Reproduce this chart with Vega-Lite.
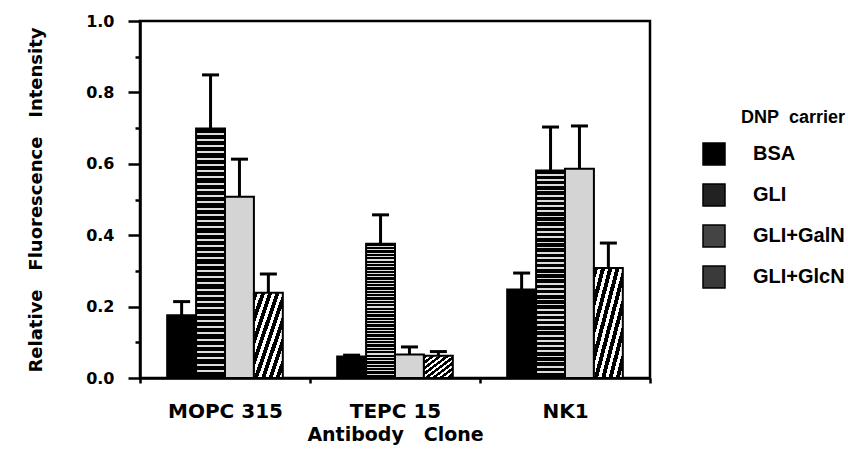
{
  "$schema": "https://vega.github.io/schema/vega-lite/v6.json",
  "width": 510,
  "height": 357,
  "autosize": {"type": "none"},
  "padding": {"left": 140, "top": 21, "right": 198, "bottom": 75},
  "background": "white",
  "config": {
    "view": {"stroke": "black", "strokeWidth": 2.5},
    "axis": {
      "domainColor": "black", "domainWidth": 2.5,
      "tickColor": "black", "tickWidth": 2.5,
      "grid": false,
      "labelFont": "DejaVu Sans", "labelFontWeight": "bold", "labelColor": "black",
      "titleFont": "DejaVu Sans", "titleFontWeight": "bold", "titleColor": "black"
    }
  },
  "data": {
    "values": [
      {"clone": "MOPC 315", "carrier": "BSA", "value": 0.176, "upper": 0.214},
      {"clone": "MOPC 315", "carrier": "GLI", "value": 0.699, "upper": 0.849},
      {"clone": "MOPC 315", "carrier": "GLI+GalN", "value": 0.508, "upper": 0.613},
      {"clone": "MOPC 315", "carrier": "GLI+GlcN", "value": 0.239, "upper": 0.291},
      {"clone": "TEPC 15", "carrier": "BSA", "value": 0.060, "upper": 0.064},
      {"clone": "TEPC 15", "carrier": "GLI", "value": 0.376, "upper": 0.457},
      {"clone": "TEPC 15", "carrier": "GLI+GalN", "value": 0.066, "upper": 0.087},
      {"clone": "TEPC 15", "carrier": "GLI+GlcN", "value": 0.062, "upper": 0.074},
      {"clone": "NK1", "carrier": "BSA", "value": 0.248, "upper": 0.294},
      {"clone": "NK1", "carrier": "GLI", "value": 0.581, "upper": 0.703},
      {"clone": "NK1", "carrier": "GLI+GalN", "value": 0.586, "upper": 0.706},
      {"clone": "NK1", "carrier": "GLI+GlcN", "value": 0.308, "upper": 0.378}
    ]
  },
  "encoding": {
    "x": {
      "field": "clone", "type": "nominal",
      "sort": ["MOPC 315", "TEPC 15", "NK1"],
      "scale": {"paddingInner": 0, "paddingOuter": 0},
      "axis": {
        "title": "Antibody\u00a0\u00a0\u00a0Clone",
        "labelAngle": 0, "labelFontSize": 20,
        "tickBand": "extent", "tickSize": 5,
        "labelPadding": 18,
        "titleFontSize": 19,
        "titleY": 62, "titleBaseline": "alphabetic"
      }
    },
    "xOffset": {
      "field": "carrier", "type": "nominal",
      "sort": ["BSA", "GLI", "GLI+GalN", "GLI+GlcN"],
      "scale": {"paddingInner": 0, "paddingOuter": 0.94}
    },
    "y": {
      "field": "value", "type": "quantitative",
      "title": "Relative\u00a0\u00a0\u00a0Fluorescence\u00a0\u00a0\u00a0Intensity",
      "scale": {"domain": [0, 1], "nice": false},
      "axis": {
        "values": [0, 0.1, 0.2, 0.3, 0.4, 0.5, 0.6, 0.7, 0.8, 0.9, 1.0],
        "labelExpr": "round(datum.value*10)%2==0 ? format(datum.value,'.1f') : ''",
        "tickSize": {"condition": {"test": "round(datum.value*10)%2==0", "value": 12}, "value": 5},
        "labelFontSize": 16,
        "labelPadding": 14,
        "titleFontSize": 18,
        "titleX": -104,
        "titleBaseline": "middle"
      }
    }
  },
  "layer": [
    {
      "mark": {"type": "rule", "strokeWidth": 3, "color": "black"},
      "encoding": {
        "y2": {"field": "upper"}
      }
    },
    {
      "mark": {"type": "bar", "stroke": "black", "strokeWidth": 2, "opacity": 1},
      "encoding": {
        "fill": {
          "condition": [
            {"test": "datum.carrier === 'GLI'", "value": {"gradient": "linear", "x1": 0, "y1": 0, "x2": 0, "y2": 1, "stops": [
              {"offset": 0, "color": "#000"},
              {"offset": 0.017, "color": "#000"}, {"offset": 0.017, "color": "#ddd"}, {"offset": 0.025, "color": "#ddd"}, {"offset": 0.025, "color": "#000"},
              {"offset": 0.042, "color": "#000"}, {"offset": 0.042, "color": "#ddd"}, {"offset": 0.05, "color": "#ddd"}, {"offset": 0.05, "color": "#000"},
              {"offset": 0.067, "color": "#000"}, {"offset": 0.067, "color": "#ddd"}, {"offset": 0.075, "color": "#ddd"}, {"offset": 0.075, "color": "#000"},
              {"offset": 0.092, "color": "#000"}, {"offset": 0.092, "color": "#ddd"}, {"offset": 0.1, "color": "#ddd"}, {"offset": 0.1, "color": "#000"},
              {"offset": 0.117, "color": "#000"}, {"offset": 0.117, "color": "#ddd"}, {"offset": 0.125, "color": "#ddd"}, {"offset": 0.125, "color": "#000"},
              {"offset": 0.142, "color": "#000"}, {"offset": 0.142, "color": "#ddd"}, {"offset": 0.15, "color": "#ddd"}, {"offset": 0.15, "color": "#000"},
              {"offset": 0.167, "color": "#000"}, {"offset": 0.167, "color": "#ddd"}, {"offset": 0.175, "color": "#ddd"}, {"offset": 0.175, "color": "#000"},
              {"offset": 0.192, "color": "#000"}, {"offset": 0.192, "color": "#ddd"}, {"offset": 0.2, "color": "#ddd"}, {"offset": 0.2, "color": "#000"},
              {"offset": 0.217, "color": "#000"}, {"offset": 0.217, "color": "#ddd"}, {"offset": 0.225, "color": "#ddd"}, {"offset": 0.225, "color": "#000"},
              {"offset": 0.242, "color": "#000"}, {"offset": 0.242, "color": "#ddd"}, {"offset": 0.25, "color": "#ddd"}, {"offset": 0.25, "color": "#000"},
              {"offset": 0.267, "color": "#000"}, {"offset": 0.267, "color": "#ddd"}, {"offset": 0.275, "color": "#ddd"}, {"offset": 0.275, "color": "#000"},
              {"offset": 0.292, "color": "#000"}, {"offset": 0.292, "color": "#ddd"}, {"offset": 0.3, "color": "#ddd"}, {"offset": 0.3, "color": "#000"},
              {"offset": 0.317, "color": "#000"}, {"offset": 0.317, "color": "#ddd"}, {"offset": 0.325, "color": "#ddd"}, {"offset": 0.325, "color": "#000"},
              {"offset": 0.342, "color": "#000"}, {"offset": 0.342, "color": "#ddd"}, {"offset": 0.35, "color": "#ddd"}, {"offset": 0.35, "color": "#000"},
              {"offset": 0.367, "color": "#000"}, {"offset": 0.367, "color": "#ddd"}, {"offset": 0.375, "color": "#ddd"}, {"offset": 0.375, "color": "#000"},
              {"offset": 0.392, "color": "#000"}, {"offset": 0.392, "color": "#ddd"}, {"offset": 0.4, "color": "#ddd"}, {"offset": 0.4, "color": "#000"},
              {"offset": 0.417, "color": "#000"}, {"offset": 0.417, "color": "#ddd"}, {"offset": 0.425, "color": "#ddd"}, {"offset": 0.425, "color": "#000"},
              {"offset": 0.442, "color": "#000"}, {"offset": 0.442, "color": "#ddd"}, {"offset": 0.45, "color": "#ddd"}, {"offset": 0.45, "color": "#000"},
              {"offset": 0.467, "color": "#000"}, {"offset": 0.467, "color": "#ddd"}, {"offset": 0.475, "color": "#ddd"}, {"offset": 0.475, "color": "#000"},
              {"offset": 0.492, "color": "#000"}, {"offset": 0.492, "color": "#ddd"}, {"offset": 0.5, "color": "#ddd"}, {"offset": 0.5, "color": "#000"},
              {"offset": 0.517, "color": "#000"}, {"offset": 0.517, "color": "#ddd"}, {"offset": 0.525, "color": "#ddd"}, {"offset": 0.525, "color": "#000"},
              {"offset": 0.542, "color": "#000"}, {"offset": 0.542, "color": "#ddd"}, {"offset": 0.55, "color": "#ddd"}, {"offset": 0.55, "color": "#000"},
              {"offset": 0.567, "color": "#000"}, {"offset": 0.567, "color": "#ddd"}, {"offset": 0.575, "color": "#ddd"}, {"offset": 0.575, "color": "#000"},
              {"offset": 0.592, "color": "#000"}, {"offset": 0.592, "color": "#ddd"}, {"offset": 0.6, "color": "#ddd"}, {"offset": 0.6, "color": "#000"},
              {"offset": 0.617, "color": "#000"}, {"offset": 0.617, "color": "#ddd"}, {"offset": 0.625, "color": "#ddd"}, {"offset": 0.625, "color": "#000"},
              {"offset": 0.642, "color": "#000"}, {"offset": 0.642, "color": "#ddd"}, {"offset": 0.65, "color": "#ddd"}, {"offset": 0.65, "color": "#000"},
              {"offset": 0.667, "color": "#000"}, {"offset": 0.667, "color": "#ddd"}, {"offset": 0.675, "color": "#ddd"}, {"offset": 0.675, "color": "#000"},
              {"offset": 0.692, "color": "#000"}, {"offset": 0.692, "color": "#ddd"}, {"offset": 0.7, "color": "#ddd"}, {"offset": 0.7, "color": "#000"},
              {"offset": 0.717, "color": "#000"}, {"offset": 0.717, "color": "#ddd"}, {"offset": 0.725, "color": "#ddd"}, {"offset": 0.725, "color": "#000"},
              {"offset": 0.742, "color": "#000"}, {"offset": 0.742, "color": "#ddd"}, {"offset": 0.75, "color": "#ddd"}, {"offset": 0.75, "color": "#000"},
              {"offset": 0.767, "color": "#000"}, {"offset": 0.767, "color": "#ddd"}, {"offset": 0.775, "color": "#ddd"}, {"offset": 0.775, "color": "#000"},
              {"offset": 0.792, "color": "#000"}, {"offset": 0.792, "color": "#ddd"}, {"offset": 0.8, "color": "#ddd"}, {"offset": 0.8, "color": "#000"},
              {"offset": 0.817, "color": "#000"}, {"offset": 0.817, "color": "#ddd"}, {"offset": 0.825, "color": "#ddd"}, {"offset": 0.825, "color": "#000"},
              {"offset": 0.842, "color": "#000"}, {"offset": 0.842, "color": "#ddd"}, {"offset": 0.85, "color": "#ddd"}, {"offset": 0.85, "color": "#000"},
              {"offset": 0.867, "color": "#000"}, {"offset": 0.867, "color": "#ddd"}, {"offset": 0.875, "color": "#ddd"}, {"offset": 0.875, "color": "#000"},
              {"offset": 0.892, "color": "#000"}, {"offset": 0.892, "color": "#ddd"}, {"offset": 0.9, "color": "#ddd"}, {"offset": 0.9, "color": "#000"},
              {"offset": 0.917, "color": "#000"}, {"offset": 0.917, "color": "#ddd"}, {"offset": 0.925, "color": "#ddd"}, {"offset": 0.925, "color": "#000"},
              {"offset": 0.942, "color": "#000"}, {"offset": 0.942, "color": "#ddd"}, {"offset": 0.95, "color": "#ddd"}, {"offset": 0.95, "color": "#000"},
              {"offset": 0.967, "color": "#000"}, {"offset": 0.967, "color": "#ddd"}, {"offset": 0.975, "color": "#ddd"}, {"offset": 0.975, "color": "#000"},
              {"offset": 1, "color": "#000"}
            ]}},
            {"test": "datum.carrier === 'GLI+GalN'", "value": "#d4d4d4"},
            {"test": "datum.carrier === 'GLI+GlcN'", "value": {"gradient": "linear", "x1": 0, "y1": 0, "x2": 1, "y2": 1, "stops": [
              {"offset": 0, "color": "#000"}, {"offset": 0.07, "color": "#000"}, {"offset": 0.07, "color": "#fff"}, {"offset": 0.125, "color": "#fff"},
              {"offset": 0.125, "color": "#000"}, {"offset": 0.195, "color": "#000"}, {"offset": 0.195, "color": "#fff"}, {"offset": 0.25, "color": "#fff"},
              {"offset": 0.25, "color": "#000"}, {"offset": 0.32, "color": "#000"}, {"offset": 0.32, "color": "#fff"}, {"offset": 0.375, "color": "#fff"},
              {"offset": 0.375, "color": "#000"}, {"offset": 0.445, "color": "#000"}, {"offset": 0.445, "color": "#fff"}, {"offset": 0.5, "color": "#fff"},
              {"offset": 0.5, "color": "#000"}, {"offset": 0.57, "color": "#000"}, {"offset": 0.57, "color": "#fff"}, {"offset": 0.625, "color": "#fff"},
              {"offset": 0.625, "color": "#000"}, {"offset": 0.695, "color": "#000"}, {"offset": 0.695, "color": "#fff"}, {"offset": 0.75, "color": "#fff"},
              {"offset": 0.75, "color": "#000"}, {"offset": 0.82, "color": "#000"}, {"offset": 0.82, "color": "#fff"}, {"offset": 0.875, "color": "#fff"},
              {"offset": 0.875, "color": "#000"}, {"offset": 0.945, "color": "#000"}, {"offset": 0.945, "color": "#fff"}, {"offset": 1, "color": "#fff"}
            ]}}
          ],
          "field": "carrier", "type": "nominal",
          "sort": ["BSA", "GLI", "GLI+GalN", "GLI+GlcN"],
          "scale": {"range": ["#000000", "#222222", "#444444", "#3a3a3a"]},
          "legend": {
            "orient": "none", "legendX": 562, "legendY": 88,
            "title": "DNP\u00a0\u00a0carrier",
            "titleAnchor": "end",
            "titleFont": "Liberation Sans", "titleFontSize": 18, "titleFontWeight": "bold", "titleColor": "black",
            "titlePadding": 15,
            "symbolType": "square", "symbolSize": 484,
            "symbolStrokeColor": "black", "symbolStrokeWidth": 1.5, "symbolOpacity": 1,
            "labelFont": "Liberation Sans", "labelFontSize": 20, "labelFontWeight": "bold", "labelColor": "black",
            "labelOffset": 27, "rowPadding": 13
          }
        }
      }
    },
    {
      "mark": {"type": "tick", "thickness": 3, "size": 17, "color": "black", "opacity": 1},
      "encoding": {
        "y": {"field": "upper", "type": "quantitative", "title": "Relative\u00a0\u00a0\u00a0Fluorescence\u00a0\u00a0\u00a0Intensity", "scale": {"domain": [0, 1], "nice": false}}
      }
    }
  ]
}
